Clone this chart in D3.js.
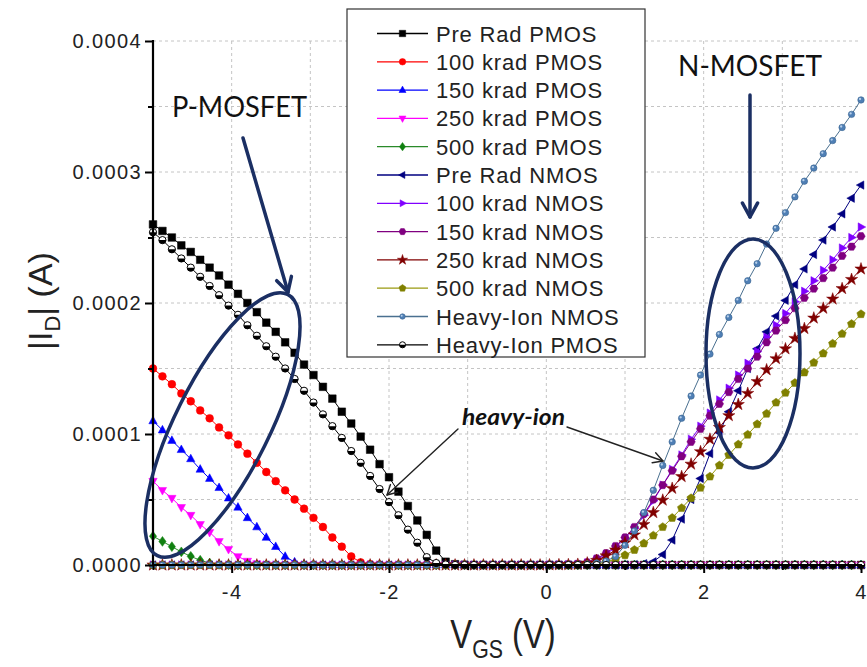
<!DOCTYPE html>
<html><head><meta charset="utf-8">
<script src="https://cdnjs.cloudflare.com/ajax/libs/d3/7.8.5/d3.min.js"></script>
<style>body{margin:0;background:#fff}svg{display:block}</style>
</head><body>
<svg id="c" width="867" height="667"></svg>
<script>
// ---------- DATA (drain current in µA) ----------
const vgs = [-5,-4.88,-4.76,-4.64,-4.52,-4.4,-4.28,-4.16,-4.04,-3.92,
 -3.8,-3.68,-3.56,-3.44,-3.32,-3.2,-3.08,-2.96,-2.84,-2.72,
 -2.6,-2.48,-2.36,-2.24,-2.12,-2,-1.88,-1.76,-1.64,-1.52,
 -1.4,-1.28,-1.16,-1.04,-0.92,-0.8,-0.68,-0.56,-0.44,-0.32,
 -0.2,-0.08,0.04,0.16,0.28,0.4,0.52,0.64,0.76,0.88,
 1,1.12,1.24,1.36,1.48,1.6,1.72,1.84,1.96,2.08,
 2.2,2.32,2.44,2.56,2.68,2.8,2.92,3.04,3.16,3.28,
 3.4,3.52,3.64,3.76,3.88,4];

const preRadPMOS = [260,255,250,244,239,233,227,221,214,207, 200,193,185,178,170,162,153,145,136,127,
 117,108,98,88,77,67,56,45,34,23, 11,2.5,0.6,0.2,0,0,0,0,0,0, 0,0,0,0,0,0,0,0,0,0,
 0,0,0,0,0,0,0,0,0,0, 0,0,0,0,0,0,0,0,0,0, 0,0,0,0,0,0];
const k100PMOS = [150,144,138,131,125,118,112,105,99,92, 85,78,71,64,57,50,43,36,29,21,
 14,6.5,2,0.6,0.2,0,0,0,0,0, 0,0,0,0,0,0,0,0,0,0, 0,0,0,0,0,0,0,0,0,0,
 0,0,0,0,0,0,0,0,0,0, 0,0,0,0,0,0,0,0,0,0, 0,0,0,0,0,0];
const k150PMOS = [110,103,95,88,81,73,66,59,51,44, 36,29,21,14,6.5,2.2,0.6,0.2,0,0,
 0,0,0,0,0,0,0,0,0,0, 0,0,0,0,0,0,0,0,0,0, 0,0,0,0,0,0,0,0,0,0,
 0,0,0,0,0,0,0,0,0,0, 0,0,0,0,0,0,0,0,0,0, 0,0,0,0,0,0];
const k250PMOS = [64,57,51,44,38,31,25,18,12,6.5, 3,1,0.3,0,0,0,0,0,0,0,
 0,0,0,0,0,0,0,0,0,0, 0,0,0,0,0,0,0,0,0,0, 0,0,0,0,0,0,0,0,0,0,
 0,0,0,0,0,0,0,0,0,0, 0,0,0,0,0,0,0,0,0,0, 0,0,0,0,0,0];
const k500PMOS = [22,18,14,10,6.6,3.6,1.5,0.5,0.2,0, 0,0,0,0,0,0,0,0,0,0,
 0,0,0,0,0,0,0,0,0,0, 0,0,0,0,0,0,0,0,0,0, 0,0,0,0,0,0,0,0,0,0,
 0,0,0,0,0,0,0,0,0,0, 0,0,0,0,0,0,0,0,0,0, 0,0,0,0,0,0];
const preRadNMOS = [0,0,0,0,0,0,0,0,0,0, 0,0,0,0,0,0,0,0,0,0, 0,0,0,0,0,0,0,0,0,0, 0,0,0,0,0,0,0,0,0,0,
 0,0,0,0,0,0,0,0,0,0, 0,0.3,1,2.5,8,19,35,50,66,85,
 101,117,133,150,165,178,190,202,214,226, 237,248,258,268,280,290];
const k100NMOS = [0,0,0,0,0,0,0,0,0,0, 0,0,0,0,0,0,0,0,0,0, 0,0,0,0,0,0,0,0,0,0, 0,0,0,0,0,0,0,0,0,0,
 0,0,0.1,0.2,0.3,0.6,1.6,4.2,8.2,13.5, 20,28,38,49,61,73,84,96,106,116,
 126,135,145,154,163,174,183,192,201,209, 217,225,233,242,250,258];
const k150NMOS = [0,0,0,0,0,0,0,0,0,0, 0,0,0,0,0,0,0,0,0,0, 0,0,0,0,0,0,0,0,0,0, 0,0,0,0,0,0,0,0,0,0,
 0,0,0.1,0.2,0.4,0.8,2,5,9,14.5, 21,29,39,50,61,72,83,94,104,114,
 123,132,142,150,159,170,179,187,196,204, 211,219,227,236,243,251];
const k250NMOS = [0,0,0,0,0,0,0,0,0,0, 0,0,0,0,0,0,0,0,0,0, 0,0,0,0,0,0,0,0,0,0, 0,0,0,0,0,0,0,0,0,0,
 0,0,0.1,0.2,0.3,0.5,1.5,3.5,7,11.5, 17,23,31,40,49.5,58.5,67.5,77,86.5,96,
 105,114,122.5,131,140,149,157.5,165,173,180.5, 188.5,196,203,211,218,226];
const k500NMOS = [0,0,0,0,0,0,0,0,0,0, 0,0,0,0,0,0,0,0,0,0, 0,0,0,0,0,0,0,0,0,0, 0,0,0,0,0,0,0,0,0,0,
 0,0,0,0,0,0.1,0.3,0.8,2.2,4.5, 7.5,11.5,16.5,22.5,29,36,43.5,51,59,67.5,
 76,84,92,99.5,107.5,115.5,124,131.5,139,147, 154.5,161.5,169,176.5,184,191.5];
const heavyIonNMOS = [0,0,0,0,0,0,0,0,0,0, 0,0,0,0,0,0,0,0,0,0, 0,0,0,0,0,0,0,0,0,0, 0,0,0,0,0,0,0,0,0,0,
 0,0,0,0,0.1,0.3,0.7,1.5,3,6.5, 15,26,40,57,76,94,112,129,145,161,
 176,189,202,217,230,245,257,269,281,293, 303,314,324,334,344,355];
const heavyIonPMOS = [254,248,241,234,227,220,213,206,198,191, 183,175,167,159,150,142,133,124,115,106,
 97,87,78,68,58,48,38,27,17,6, 1.5,0.4,0,0,0,0,0,0,0,0, 0,0,0,0,0,0,0,0,0,0,
 0,0,0,0,0,0,0,0,0,0, 0,0,0,0,0,0,0,0,0,0, 0,0,0,0,0,0];

const seriesNames = ["Pre Rad PMOS","100 krad PMOS","150 krad PMOS","250 krad PMOS","500 krad PMOS",
 "Pre Rad NMOS","100 krad NMOS","150 krad NMOS","250 krad NMOS","500 krad NMOS",
 "Heavy-Ion NMOS","Heavy-Ion PMOS"];
const seriesValues = [preRadPMOS,k100PMOS,k150PMOS,k250PMOS,k500PMOS,
 preRadNMOS,k100NMOS,k150NMOS,k250NMOS,k500NMOS,heavyIonNMOS,heavyIonPMOS];
const xTickLabels = [-4,-2,0,2,4];
const xMinorTicks = [-5,-3,-1,1,3];
const yTickLabels = [0,0.0001,0.0002,0.0003,0.0004];
const yMinorTicks = [0.00005,0.00015,0.00025,0.00035];

// ---------- STYLE ----------
const styles = [
 {c:"#000000", m:"square"},
 {c:"#ff0000", m:"circle"},
 {c:"#0000ff", m:"triUp"},
 {c:"#ff00ff", m:"triDown"},
 {c:"#108010", m:"diamond", lc:"#2a8a2a"},
 {c:"#000080", m:"triLeft"},
 {c:"#8000ff", m:"triRight"},
 {c:"#800080", m:"hexagon"},
 {c:"#800000", m:"star"},
 {c:"#808000", m:"pentagon", lc:"#9a9a10"},
 {c:"#4f7fb5", m:"sphere", lc:"#4a7090"},
 {c:"#000000", m:"halfCircle"}
];

const svg = d3.select("#c");
const x = d3.scaleLinear().domain([-5,4]).range([153,861]);
const y = d3.scaleLinear().domain([0,0.0004]).range([565,41]);
const FONT = "'Liberation Sans', Arial, sans-serif";

// grid
const grid = svg.append("g").attr("stroke","#c4c4c4").attr("stroke-width",1).attr("stroke-dasharray","3,3");
[-4,-3,-2,-1,0,1,2,3].forEach(v=>grid.append("line").attr("x1",x(v)).attr("x2",x(v)).attr("y1",y(0.0004)).attr("y2",y(0)));
d3.range(1,9).map(k=>k*0.00005).forEach(v=>grid.append("line").attr("x1",x(-5)).attr("x2",x(4)).attr("y1",y(v)).attr("y2",y(v)));

function poly(pts){return "M"+pts.map(p=>p[0].toFixed(2)+","+p[1].toFixed(2)).join("L")+"Z";}
function ngon(n,r,rot){const a=[];for(let k=0;k<n;k++){const t=rot+2*Math.PI*k/n;a.push([r*Math.cos(t),r*Math.sin(t)]);}return poly(a);}
function symbolPath(m,s){
 switch(m){
  case "square": return poly([[-s,-s],[s,-s],[s,s],[-s,s]]);
  case "circle": return d3.symbol(d3.symbolCircle, Math.PI*s*s*1.05)();
  case "triUp": return poly([[0,-s*1.25],[s*1.1,s*0.75],[-s*1.1,s*0.75]]);
  case "triDown": return poly([[0,s*1.25],[s*1.1,-s*0.75],[-s*1.1,-s*0.75]]);
  case "triLeft": return poly([[-s*1.25,0],[s*0.75,-s*1.1],[s*0.75,s*1.1]]);
  case "triRight": return poly([[s*1.25,0],[-s*0.75,-s*1.1],[-s*0.75,s*1.1]]);
  case "diamond": return poly([[0,-s*1.3],[s*0.95,0],[0,s*1.3],[-s*0.95,0]]);
  case "hexagon": return ngon(6,s*1.1,0);
  case "pentagon": return ngon(5,s*1.15,-Math.PI/2);
  case "star": return d3.symbol(d3.symbolStar, s*s*3.2)();
 }
}
function drawMarker(g,st,cx,cy,s){
 if(st.m==="sphere"){
  g.append("circle").attr("cx",cx).attr("cy",cy).attr("r",s*0.85).attr("fill",st.c).attr("stroke","#3a6590").attr("stroke-width",0.6);
  g.append("circle").attr("cx",cx-s*0.25).attr("cy",cy-s*0.25).attr("r",s*0.3).attr("fill","#b8d0ea");
 } else if(st.m==="halfCircle"){
  const r=s*0.95;
  g.append("circle").attr("cx",cx).attr("cy",cy).attr("r",r).attr("fill","#fff").attr("stroke","#000").attr("stroke-width",1);
  g.append("path").attr("transform",`translate(${cx},${cy})`).attr("d",`M${-r},0A${r},${r} 0 0 0 ${r},0Z`).attr("fill","#000");
 } else {
  g.append("path").attr("transform",`translate(${cx},${cy})`).attr("d",symbolPath(st.m,s)).attr("fill",st.c).attr("stroke",st.c).attr("stroke-width",0.5);
 }
}

// series
const line = d3.line().x(d=>x(d[0])).y(d=>y(d[1]*1e-6));
const plot = svg.append("g");
seriesValues.forEach((vals,k)=>{
 const st = styles[k];
 const pts = vgs.map((v,i)=>[v,vals[i]]);
 const g = plot.append("g");
 g.append("path").attr("d",line(pts)).attr("fill","none").attr("stroke",st.lc||st.c).attr("stroke-width",1);
 pts.forEach(p=>drawMarker(g,st,x(p[0]),y(p[1]*1e-6),3.8));
});

// axes
const axG = svg.append("g").attr("font-family",FONT);
const xAxis = axG.append("g").attr("transform",`translate(0,${y(0)})`)
 .call(d3.axisBottom(x).tickValues(xTickLabels).tickSize(8).tickPadding(12).tickFormat(d=>String(d)));
const xMinor = axG.append("g").attr("transform",`translate(0,${y(0)})`)
 .call(d3.axisBottom(x).tickValues(xMinorTicks).tickSize(5).tickFormat(""));
const yAxis = axG.append("g").attr("transform",`translate(${x(-5)},0)`)
 .call(d3.axisLeft(y).tickValues(yTickLabels).tickSize(8).tickPadding(3).tickFormat(d3.format(".4f")));
const yMinor = axG.append("g").attr("transform",`translate(${x(-5)},0)`)
 .call(d3.axisLeft(y).tickValues(yMinorTicks).tickSize(5).tickFormat(""));
[xAxis,xMinor,yAxis,yMinor].forEach(a=>{a.select(".domain").remove();a.selectAll(".tick line").attr("stroke","#000").attr("stroke-width",2);});
axG.selectAll(".tick text").attr("font-size",20).attr("fill","#222").attr("font-family",FONT).style("letter-spacing","1.4px");
axG.append("line").attr("x1",x(-5)-1).attr("x2",x(4)+1).attr("y1",y(0)).attr("y2",y(0)).attr("stroke","#000").attr("stroke-width",2.2);
axG.append("line").attr("x1",x(-5)).attr("x2",x(-5)).attr("y1",y(0.0004)-1).attr("y2",y(0)+1).attr("stroke","#000").attr("stroke-width",2.2);

// axis titles
const yt = svg.append("text").attr("transform","translate(52,301) rotate(-90)").attr("text-anchor","middle")
 .attr("font-family",FONT).attr("font-size",34).attr("fill","#222");
yt.append("tspan").text("|I");
yt.append("tspan").attr("font-size",22).attr("dy",8).text("D");
yt.append("tspan").attr("dy",-8).text("| (A)");
const xt = svg.append("text").attr("transform","translate(503,648) scale(0.82,1)").attr("text-anchor","middle")
 .attr("font-family",FONT).attr("font-size",40).attr("fill","#222");
xt.append("tspan").text("V");
xt.append("tspan").attr("font-size",26).attr("dy",10).text("GS");
xt.append("tspan").attr("dy",-10).text(" (V)");

// legend
const lg = svg.append("g").attr("font-family",FONT);
lg.append("rect").attr("x",347).attr("y",9).attr("width",298).attr("height",348).attr("fill","#fff").attr("stroke","#333").attr("stroke-width",1.2);
seriesNames.forEach((n,k)=>{
 const st=styles[k]; const cy=33.5+28.3*k;
 lg.append("line").attr("x1",377).attr("x2",428).attr("y1",cy).attr("y2",cy).attr("stroke",st.lc||st.c).attr("stroke-width",1.3);
 drawMarker(lg,st,402.5,cy,3.2);
 lg.append("text").attr("x",436).attr("y",cy+8).attr("font-size",22).attr("fill","#222").style("letter-spacing","0.8px").text(n);
});

// annotations
const NAVY="#1b2f63";
function arrow(x1,y1,x2,y2,col,w,hl){
 const g=svg.append("g").attr("stroke",col).attr("stroke-width",w).attr("fill","none").attr("stroke-linecap","round");
 g.append("line").attr("x1",x1).attr("y1",y1).attr("x2",x2).attr("y2",y2);
 const a=Math.atan2(y2-y1,x2-x1), d=0.5;
 g.append("path").attr("d",`M${x2-hl*Math.cos(a-d)},${y2-hl*Math.sin(a-d)}L${x2},${y2}L${x2-hl*Math.cos(a+d)},${y2-hl*Math.sin(a+d)}`).attr("stroke-linejoin","round");
}
svg.append("ellipse").attr("cx",222.5).attr("cy",425).attr("rx",146).attr("ry",47)
 .attr("transform","rotate(-63.5,222.5,425)").attr("fill","none").attr("stroke",NAVY).attr("stroke-width",3.5);
svg.append("ellipse").attr("cx",753).attr("cy",353.5).attr("rx",47).attr("ry",114.5)
 .attr("fill","none").attr("stroke",NAVY).attr("stroke-width",3.5);
arrow(243,138,288,292,NAVY,3.5,16);
arrow(750,95,750,217,NAVY,3.5,16);
svg.append("text").attr("x",172).attr("y",117).attr("font-family","Lato, sans-serif").attr("font-size",28)
 .attr("textLength",135).attr("lengthAdjust","spacingAndGlyphs").attr("fill","#111").text("P-MOSFET");
svg.append("text").attr("x",678).attr("y",76).attr("font-family","Lato, sans-serif").attr("font-size",28)
 .attr("textLength",144).attr("lengthAdjust","spacingAndGlyphs").attr("fill","#111").text("N-MOSFET");
svg.append("text").attr("x",462).attr("y",425).attr("font-family","Lato, sans-serif").attr("font-size",22)
 .attr("font-weight","bold").attr("font-style","italic").attr("textLength",103).attr("lengthAdjust","spacingAndGlyphs").attr("fill","#111").text("heavy-ion");
arrow(458,429,387,495,"#222",1.4,11);
arrow(567,427,663,461,"#222",1.4,11);
</script>
</body></html>
